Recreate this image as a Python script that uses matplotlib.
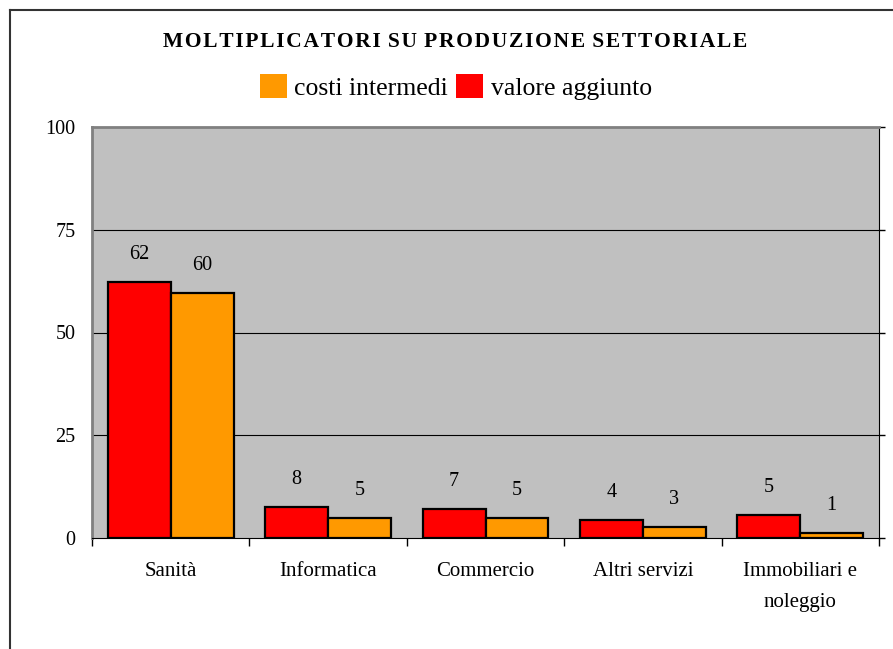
import numpy as np
import matplotlib
matplotlib.use("Agg")
import matplotlib.pyplot as plt
from matplotlib.patches import Patch
from matplotlib.lines import Line2D

# data
settori = ["Sanità", "Informatica", "Commercio", "Altri servizi", "Immobiliari e\nnoleggio"]
valore_aggiunto = [62.3, 7.5, 7.0, 4.4, 5.6]
costi_intermedi = [59.6, 4.9, 4.9, 2.7, 1.2]
label_va = [62, 8, 7, 4, 5]
label_ci = [60, 5, 5, 3, 1]
yticks = [0, 25, 50, 75, 100]
titolo = "MOLTIPLICATORI SU PRODUZIONE SETTORIALE"

plt.rcParams['font.family'] = ['Liberation Serif', 'DejaVu Serif']

fig = plt.figure(figsize=(8.93, 6.49), dpi=100)
ax = fig.add_axes([92/893, 1-538/649, (879-92)/893, (538-127)/649])

# outer chart border (left and top visible)
fig.add_artist(Line2D([10/893, 10/893], [0, 1-10/649], transform=fig.transFigure, color="#333333", lw=1.5))
fig.add_artist(Line2D([10/893, 1], [1-10/649, 1-10/649], transform=fig.transFigure, color="#333333", lw=1.5))

x = np.arange(len(settori))
w = 0.4
red = "#FF0000"
orange = "#FF9900"

ax.set_facecolor("#C0C0C0")
ax.bar(x - w/2, valore_aggiunto, w, color=red, edgecolor="black", lw=1.6, zorder=3)
ax.bar(x + w/2, costi_intermedi, w, color=orange, edgecolor="black", lw=1.6, zorder=3)

for i in range(len(settori)):
    ax.annotate(str(label_va[i]), (x[i] - w/2, valore_aggiunto[i]), xytext=(0, 20),
                textcoords="offset points", ha="center", va="center", fontsize=14.5)
    ax.annotate(str(label_ci[i]), (x[i] + w/2, costi_intermedi[i]), xytext=(0, 20),
                textcoords="offset points", ha="center", va="center", fontsize=14.5)

ax.set_xlim(-0.5, len(settori) - 0.5)
ax.set_ylim(0, 100)
ax.set_yticks(yticks)
ax.set_yticklabels([str(t) for t in yticks], fontsize=14.5)
for t in yticks[1:-1]:
    ax.axhline(t, color="black", lw=0.8, zorder=1)

ax.set_xticks(x)
ax.set_xticklabels(settori, fontsize=15, linespacing=1.9)
ax.tick_params(axis="x", length=0, pad=17)
ax.set_xticks(np.arange(len(settori) + 1) - 0.5, minor=True)
ax.tick_params(axis="x", which="minor", length=6, width=1, direction="out")
ax.tick_params(axis="y", left=False, right=True, length=4, width=1, direction="out", pad=8)

ax.spines["top"].set_color("#808080")
ax.spines["left"].set_color("#808080")
ax.spines["top"].set_linewidth(2)
ax.spines["left"].set_linewidth(2)
ax.spines["right"].set_color("black")
ax.spines["bottom"].set_color("black")

spaced = " \u200a".join("\u200a".join(parola) for parola in titolo.split(" "))
fig.text(455/893, 1-42/649, spaced, ha="center", va="center", fontsize=15.5, fontweight="bold")

handles = [Patch(facecolor=orange, edgecolor="none"), Patch(facecolor=red, edgecolor="none")]
fig.legend(handles, ["costi intermedi", "valore aggiunto"], loc="center", bbox_to_anchor=(456/893, 1-87/649),
           ncol=2, frameon=False, fontsize=18.5, handlelength=1.05, handleheight=1.05,
           handletextpad=0.28, columnspacing=0.32, borderpad=0)

fig.savefig("out.png", dpi=100)
